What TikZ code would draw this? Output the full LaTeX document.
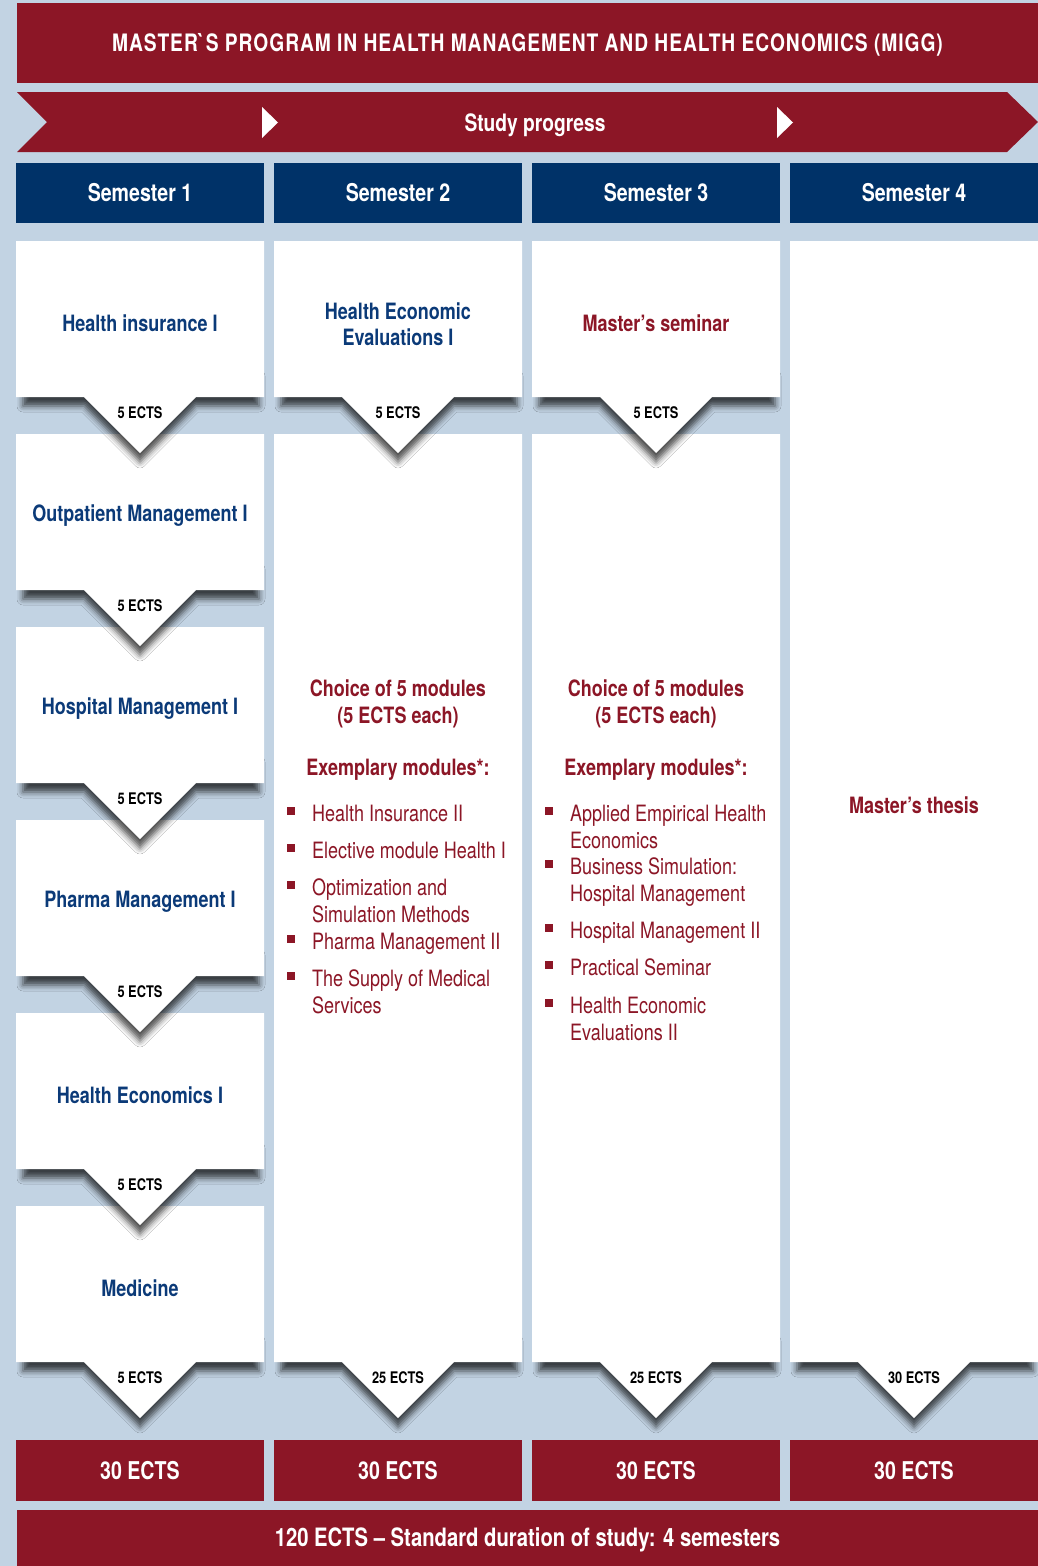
\documentclass[tikz,border=0pt]{standalone}
\usepackage{fontspec}
\setmainfont{TeX Gyre Heros}[FakeStretch=0.8]
\usetikzlibrary{shadows.blur}

\definecolor{migred}{HTML}{8C1626}
\definecolor{migblue}{HTML}{003268}
\definecolor{modblue}{HTML}{0B3A78}
\definecolor{migbg}{HTML}{C2D3E3}

\tikzset{
  redbar/.style={fill=migred, text=white, inner sep=0pt, text height=17.5pt, text depth=0pt, font=\bfseries\fontsize{24}{28}\selectfont},
  semhead/.style={fill=migblue, text=white, minimum width=248pt, minimum height=60pt, inner sep=0pt, text height=17.5pt, text depth=0pt, font=\bfseries\fontsize{24.5}{29}\selectfont},
  tabshadow/.style={blur shadow={shadow xshift=0pt, shadow yshift=-9pt, shadow blur radius=6pt, shadow opacity=70}},
  modname/.style={text=modblue, align=center, inner sep=0pt, font=\bfseries\fontsize{22.5}{26}\selectfont},
  redname/.style={text=migred, align=center, inner sep=0pt, font=\bfseries\fontsize{22.5}{27}\selectfont},
  ectslabel/.style={inner sep=0pt, font=\bfseries\fontsize{16}{18}\selectfont},
  bulsq/.style={fill=migred, minimum size=8pt, inner sep=0pt},
  bultext/.style={text=migred, align=left, inner sep=0pt, anchor=north west, font=\fontsize{22.5}{27}\selectfont}
}

% box with a pointing ECTS tab
\newcommand{\ectsbox}[5]{%
  \path[tabshadow] ({#2+7},{#4-30}) -- ({#2+243},{#4-30}) -- ({#2+243},#4) -- ({#2+180},#4)
    -- ({#2+124},{#4+56}) -- ({#2+68},#4) -- ({#2+7},#4) -- cycle;
  \fill[white] (#2,#3) -- ({#2+248},#3) -- ({#2+248},#4) -- ({#2+180},#4)
    -- ({#2+124},{#4+56}) -- ({#2+68},#4) -- (#2,#4) -- cycle;
  \node[ectslabel] (#1) at ({#2+124},{#4+16}) {#5};
}

\begin{document}
\begin{tikzpicture}[x=1pt, y=-1pt]
    \useasboundingbox (0,0) rectangle (1038,1566);
    \fill[migbg] (0,0) rectangle (1038,1566);

    % title and progress band
    \node[redbar, minimum width=1021pt, minimum height=80pt] (title) at (527.5,43)
        {\addfontfeature{LetterSpace=4}MASTER\textasciigrave S PROGRAM IN HEALTH MANAGEMENT AND HEALTH ECONOMICS (MIGG)};
    \fill[migred] (17,92) -- (1007,92) -- (1038,122) -- (1007,152) -- (17,152) -- (47,122) -- cycle;
    \fill[white] (262,107) -- (278,122.5) -- (262,138) -- cycle;
    \fill[white] (777,107) -- (793,122.5) -- (777,138) -- cycle;
    \node[redbar, fill=none] (progress) at (535,123) {Study progress};

    % semester heads and totals
    \foreach \i in {1,...,4} {
        \node[semhead] (sem\i) at ({140+258*(\i-1)},192.5) {Semester \i};
        \node[semhead, fill=migred, minimum height=61pt] (tot\i) at ({140+258*(\i-1)},1470.5) {30 ECTS};
    }

    % semester 1
    \foreach \k/\txt in {6/Medicine, 5/Health Economics I, 4/Pharma Management I,
                         3/Hospital Management I, 2/Outpatient Management I, 1/Health insurance I} {
        \pgfmathsetmacro\ytop{241+193*(\k-1)}
        \ectsbox{e1\k}{16}{\ytop}{\ytop+156}{5 ECTS}
        \node[modname] (m1\k) at (140,\ytop+82) {\txt};
    }

    % semesters 2 and 3
    \ectsbox{e2b}{274}{434}{1362}{25 ECTS}
    \ectsbox{e2a}{274}{241}{397}{5 ECTS}
    \node[modname] (m21) at (398,324) {Health Economic\\Evaluations I};
    \ectsbox{e3b}{532}{434}{1362}{25 ECTS}
    \ectsbox{e3a}{532}{241}{397}{5 ECTS}
    \node[redname] (m31) at (656,323) {Master’s seminar};

    \foreach \cx/\c in {398/2, 656/3} {
        \node[redname] (choice\c) at (\cx,703.5) {Choice of 5 modules\\(5 ECTS each)};
        \node[redname] (exem\c) at (\cx,770) {Exemplary modules*:};
    }
    \foreach \yy/\txt [count=\i] in {813/Health Insurance II, 850/Elective module Health I,
            887/{Optimization and\\Simulation Methods}, 941/Pharma Management II,
            978/{The Supply of Medical\\Services}} {
        \node[bulsq] (s2\i) at (291,\yy-2) {};
        \node[bultext] (t2\i) at (312,\yy-8.5) {\txt};
    }
    \foreach \yy/\txt [count=\i] in {813/{Applied Empirical Health\\Economics},
            866/{Business Simulation:\\Hospital Management}, 930/Hospital Management II,
            967/Practical Seminar, 1005/{Health Economic\\Evaluations II}} {
        \node[bulsq] (s3\i) at (549,\yy-2) {};
        \node[bultext] (t3\i) at (570,\yy-8.5) {\txt};
    }

    % semester 4
    \ectsbox{e4}{790}{241}{1362}{30 ECTS}
    \node[redname] (thesis) at (914,805) {Master’s thesis};

    % overall
    \node[redbar, minimum width=1021pt, minimum height=56pt, font=\bfseries\fontsize{25.3}{29}\selectfont] (total) at (527.5,1538)
        {120 ECTS -- Standard duration of study: 4 semesters};
\end{tikzpicture}
\end{document}
